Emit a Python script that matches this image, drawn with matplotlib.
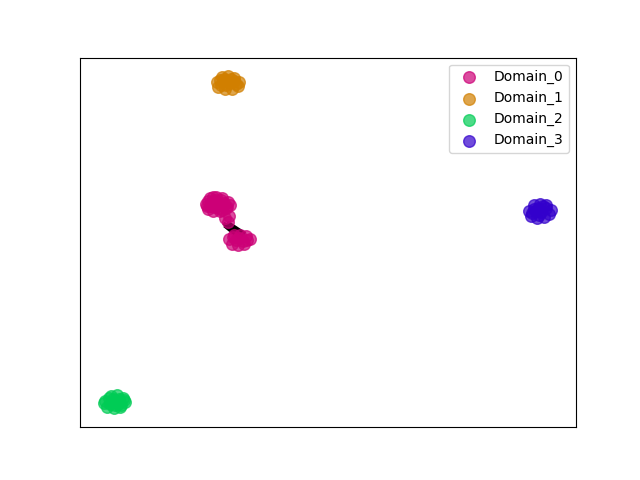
import matplotlib
matplotlib.use("Agg")
import matplotlib.pyplot as plt
import numpy as np

labels = ["Domain_0", "Domain_1", "Domain_2", "Domain_3"]
colors = ["#cc0077", "#d17f00", "#00cc55", "#3300cc"]

# Domain_0: main blob, a few bridge points and a smaller blob below
d0_x = [25.4, 26.3, 27.5, 28.7, 29.8, 25.8, 26.9, 28.2, 29.4, 30.2, 26.6, 27.8, 28.9, 27.2, 25.9,
        26.2, 27.0, 28.0, 29.0, 27.4, 28.4, 26.8, 29.6, 25.6, 28.6,
        29.2, 29.8, 30.0,
        30.0, 31.0, 32.2, 33.4, 34.3, 30.6, 31.8, 33.0, 31.5, 32.8, 32.0, 33.6, 30.8]
d0_y = [60.4, 62.0, 62.3, 62.1, 61.0, 59.0, 58.4, 58.5, 59.2, 60.0, 60.8, 60.6, 59.9, 61.5, 61.3,
        59.8, 59.6, 59.4, 60.6, 61.0, 61.4, 62.4, 59.6, 59.9, 58.9,
        56.7, 55.6, 57.2,
        50.8, 51.9, 52.0, 51.7, 50.9, 49.6, 49.3, 49.6, 50.6, 50.4, 51.2, 50.6, 51.4]

d1_x = [27.6, 28.6, 29.9, 31.1, 32.1, 27.9, 29.2, 30.6, 31.8, 28.8, 30.2, 29.5, 31.0, 28.2,
        29.0, 30.4, 31.4, 28.4]
d1_y = [93.3, 94.8, 95.0, 94.6, 93.4, 92.0, 91.4, 91.5, 92.3, 93.6, 93.0, 92.5, 93.8, 94.0,
        94.2, 94.1, 92.9, 92.6]

d2_x = [5.0, 6.2, 7.4, 8.6, 9.0, 5.4, 6.8, 8.0, 4.9, 7.2, 8.8, 6.0, 7.6, 5.8, 8.3, 6.6,
        7.0, 6.4, 7.9]
d2_y = [7.0, 8.4, 8.6, 8.0, 6.8, 5.6, 5.2, 5.4, 6.5, 7.1, 7.4, 6.2, 6.3, 7.8, 5.9, 7.5,
        6.0, 6.9, 7.7]

d3_x = [90.5, 91.6, 92.8, 94.0, 95.0, 90.9, 92.2, 93.6, 94.6, 91.5, 93.0, 92.4, 93.9, 91.2,
        92.6, 93.3, 91.9]
d3_y = [58.6, 60.2, 60.4, 60.0, 58.8, 57.2, 56.6, 56.8, 57.6, 59.0, 58.2, 59.4, 59.2, 57.9,
        57.5, 59.8, 58.4]

# black links between the bridge and the lower Domain_0 blob
link_start = [(29.6, 54.6), (29.2, 54.9), (30.0, 55.2), (29.4, 54.2)]
link_end = [(32.6, 52.0), (32.2, 51.4), (33.0, 52.6), (31.8, 51.6)]

xs = [d0_x, d1_x, d2_x, d3_x]
ys = [d0_y, d1_y, d2_y, d3_y]

fig, ax = plt.subplots(figsize=(6.4, 4.8), dpi=100)

for (x0, y0), (x1, y1) in zip(link_start, link_end):
    ax.plot([x0, x1], [y0, y1], color="black", linewidth=2.5, zorder=1)

for x, y, c, lab in zip(xs, ys, colors, labels):
    ax.scatter(x, y, s=70, color=c, alpha=0.7, label=lab, zorder=2)

ax.set_xlim(0, 100)
ax.set_ylim(0, 100)
ax.set_xticks([])
ax.set_yticks([])
ax.legend(loc="upper right")

fig.savefig("out.png")
